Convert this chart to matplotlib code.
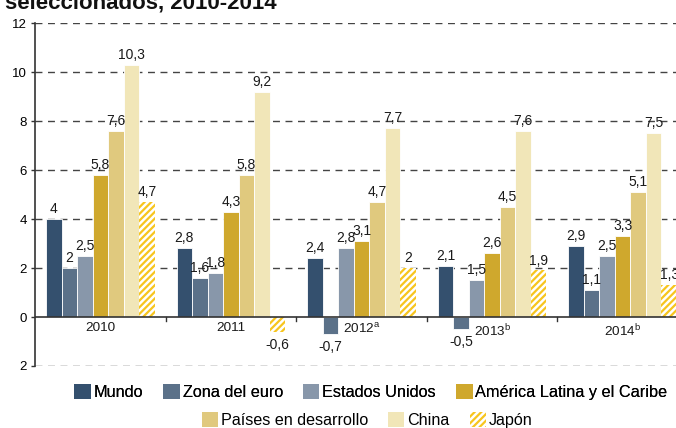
import matplotlib
matplotlib.use("Agg")
import matplotlib.pyplot as plt
from matplotlib.patches import Patch
import numpy as np

plt.rcParams['font.family'] = ['Liberation Sans', 'DejaVu Sans']
plt.rcParams['hatch.linewidth'] = 1.6

years = ["2010", "2011", "2012$^{\\mathregular{a}}$", "2013$^{\\mathregular{b}}$", "2014$^{\\mathregular{b}}$"]
series_names = ["Mundo", "Zona del euro", "Estados Unidos", "América Latina y el Caribe",
                "Países en desarrollo", "China", "Japón"]
mundo = [4, 2.8, 2.4, 2.1, 2.9]
zona_euro = [2, 1.6, -0.7, -0.5, 1.1]
estados_unidos = [2.5, 1.8, 2.8, 1.5, 2.5]
america_latina = [5.8, 4.3, 3.1, 2.6, 3.3]
paises_desarrollo = [7.6, 5.8, 4.7, 4.5, 5.1]
china = [10.3, 9.2, 7.7, 7.6, 7.5]
japon = [4.7, -0.6, 2, 1.9, 1.3]
series = [mundo, zona_euro, estados_unidos, america_latina, paises_desarrollo, china, japon]
colors = ["#34506e", "#5b7189", "#8897aa", "#cfa82d", "#e0c97e", "#f1e6b8", "#ffffff"]
hatch_color = "#f7c51e"
yticks = [-2, 0, 2, 4, 6, 8, 10, 12]
ytick_labels = ["2", "0", "2", "4", "6", "8", "10", "12"]

W, H = 676, 428
fig = plt.figure(figsize=(W / 100, H / 100), dpi=100)
ax = fig.add_axes([35 / W, 1 - 366 / H, 653 / W, (366 - 23) / H])

bw = 0.1186
x = np.arange(len(years)) + 0.5
for j, (vals, col) in enumerate(zip(series, colors)):
    pos = x + (j - 3) * bw
    if j == 6:
        ax.bar(pos, vals, bw, facecolor="white", edgecolor=hatch_color,
               hatch="/////", linewidth=0, zorder=3)
    else:
        ax.bar(pos, vals, bw, color=col, edgecolor="white", linewidth=0.6, zorder=3)
    for p, v in zip(pos, vals):
        txt = ("%g" % v).replace(".", ",")
        if v >= 0:
            ax.text(p, v + 0.12, txt, ha="center", va="bottom", fontsize=10, color="#1a1a1a", zorder=4)
        else:
            ax.text(p, v - 0.25, txt, ha="center", va="top", fontsize=10, color="#1a1a1a", zorder=4)

ax.set_xlim(0, 5)
ax.set_ylim(-2, 12)
ax.set_yticks(yticks)
ax.set_yticklabels(ytick_labels, fontsize=9.5)
for y in yticks:
    if y != 0:
        ax.axhline(y, color="#444444", lw=1.0, ls=(0, (5, 4)), zorder=1)
ax.axhline(0, color="#333333", lw=1.2, zorder=5)

ax.set_xticks([])
for xi, lbl in zip(x, years):
    ax.text(xi, -0.22, lbl, ha="center", va="top", fontsize=9.7, color="#1a1a1a")
for b in [1, 2, 3, 4]:
    ax.plot([b, b], [0, -0.16], color="#333333", lw=1, zorder=5, clip_on=False)

ax.tick_params(axis="y", length=3, width=1, color="#333333", direction="out", pad=3)
for s in ["top", "right", "bottom"]:
    ax.spines[s].set_visible(False)
ax.spines["left"].set_color("#333333")
ax.spines["left"].set_linewidth(1.2)

fig.text(0.008, 1 - 8 / H, "seleccionados, 2010-2014", fontsize=16, fontweight="bold",
         va="baseline", ha="left", color="#111111")

handles = []
for j, (name, col) in enumerate(zip(series_names, colors)):
    if j == 6:
        handles.append(Patch(facecolor="white", edgecolor=hatch_color, hatch="/////", linewidth=0, label=name))
    else:
        handles.append(Patch(facecolor=col, edgecolor="white", linewidth=0, label=name))

kw = dict(frameon=False, handlelength=1.0, handleheight=1.0,
          handletextpad=0.18, columnspacing=1.25, borderaxespad=0, borderpad=0)
leg1 = fig.legend(handles=handles[:4], ncol=4, loc="center", fontsize=11.7,
                  bbox_to_anchor=(371 / W, 1 - 392 / H), **kw)
fig.add_artist(leg1)
leg2 = fig.legend(handles=handles[4:], ncol=3, loc="center", fontsize=11.6,
                  bbox_to_anchor=(367 / W, 1 - 420 / H), **kw)

fig.savefig("out.png", dpi=100)
